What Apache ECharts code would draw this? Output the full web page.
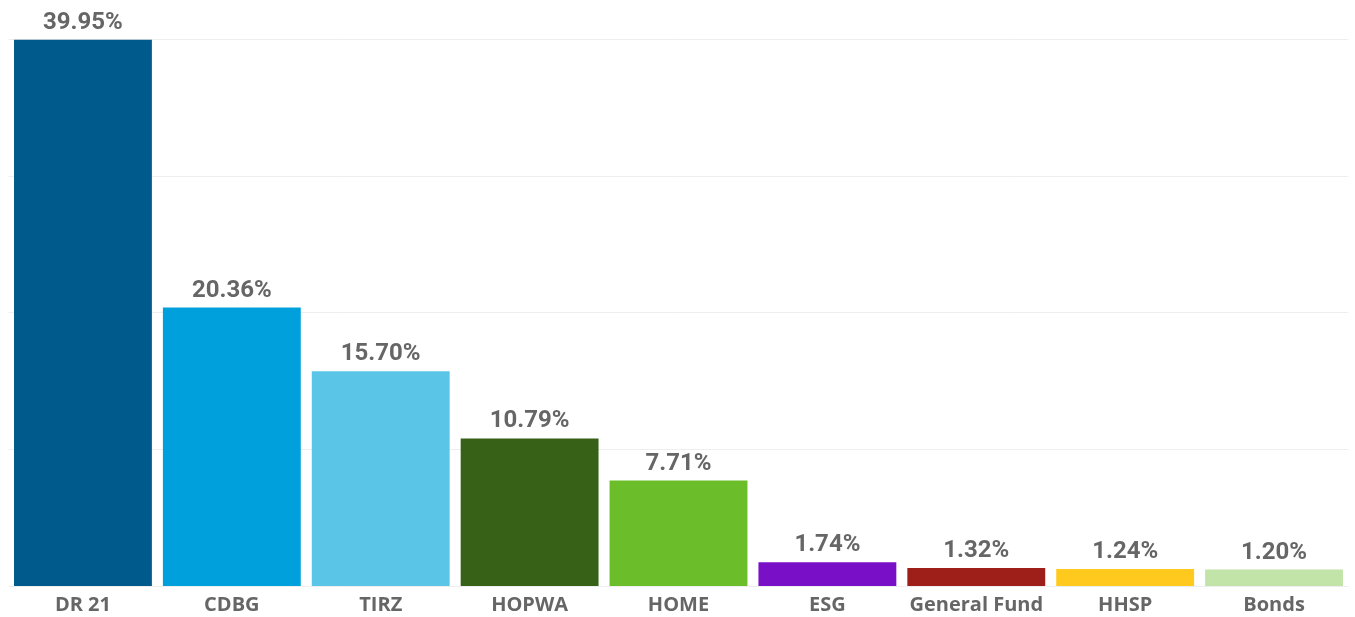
<!DOCTYPE html>
<html><head><meta charset="utf-8">
<script src="https://cdn.jsdelivr.net/npm/echarts@6/dist/echarts.min.js"></script>
<style>html,body{margin:0;padding:0;background:#fff}#c{width:1355px;height:617px}</style>
</head><body><div id="c"></div>
<script>
const categories = ["DR 21","CDBG","TIRZ","HOPWA","HOME","ESG","General Fund","HHSP","Bonds"];
const values = [39.95,20.36,15.70,10.79,7.71,1.74,1.32,1.24,1.20];
const colors = ["#005A8C","#00A0DC","#5BC5E8","#376116","#6BBD29","#7A0FC8","#9E1F19","#FFC91E","#C2E4A8"];
const yTicks = [0,10,20,30,40];

const chart = echarts.init(document.getElementById('c'));
chart.setOption({
  animation:false,
  grid:{left:8.5,right:6.5,top:39,bottom:31,containLabel:false},
  xAxis:{type:'category',data:categories,
    axisLine:{show:false},axisTick:{show:false},
    axisLabel:{color:'#666',fontFamily:'Open Sans',fontWeight:'bold',fontSize:20,margin:9,interval:0}},
  yAxis:{type:'value',min:yTicks[0],max:yTicks[yTicks.length-1],interval:10,
    axisLabel:{show:false},axisLine:{show:false},axisTick:{show:false},
    splitLine:{lineStyle:{color:'#EEEEEE',width:1}}},
  series:[{type:'bar',barCategoryGap:'7.4%',
    data:values.map((v,i)=>({value:v,itemStyle:{color:colors[i]}})),
    label:{show:true,position:'top',distance:5,color:'#666',fontFamily:'Roboto',fontWeight:'bold',fontSize:24,
      formatter:p=>p.value.toFixed(2)+'%'}}]
});
</script></body></html>
